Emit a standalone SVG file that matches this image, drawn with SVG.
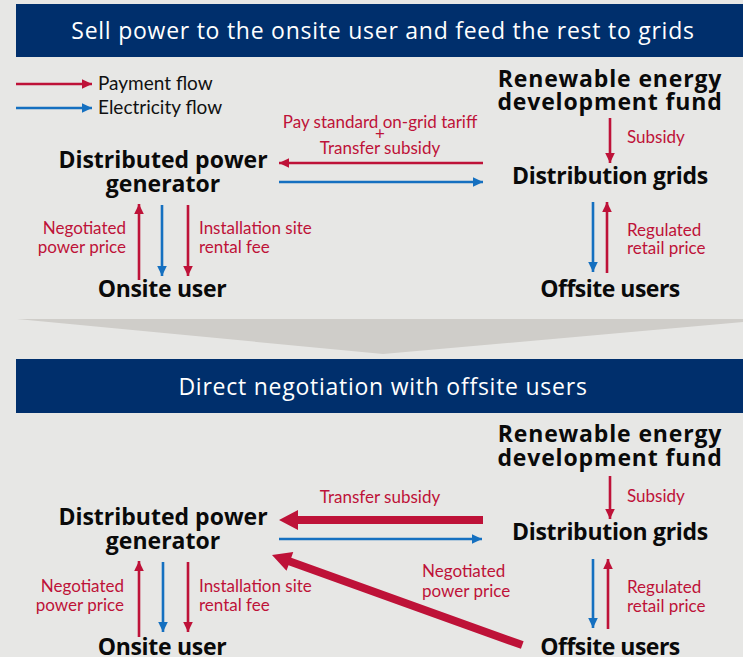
<svg xmlns="http://www.w3.org/2000/svg" width="743" height="657" viewBox="0 0 743 657">
  <style>
    .bg { fill: #e7e7e5; }
    .banner { fill: #002f6c; }
    .title { font-family: "Open Sans", Lato, sans-serif; font-size: 23px; letter-spacing: 0.75px; fill: #ffffff; text-anchor: middle; }
    .node { font-family: "Open Sans", Lato, sans-serif; font-size: 23px; font-weight: bold; fill: #0a0a0a; text-anchor: middle; }
    .wide { letter-spacing: 0.85px; }
    .tight { letter-spacing: -0.5px; }
    .snug { letter-spacing: -0.3px; }
    .lbl { font-family: Lato, "Open Sans", sans-serif; font-size: 17px; fill: #be1238; }
    .legend { font-family: Lato, "Open Sans", sans-serif; font-size: 19px; fill: #111111; }
    .pay { stroke: #be1238; stroke-width: 2.6; fill: none; marker-end: url(#headRed); }
    .elec { stroke: #1570c0; stroke-width: 2.6; fill: none; marker-end: url(#headBlue); }
    .thick { fill: #be1238; }
    .funnel { fill: #cfcdc9; }
  </style>
  <defs>
    <marker id="headRed" markerUnits="userSpaceOnUse" markerWidth="12" markerHeight="12" viewBox="0 0 12 12" refX="11" refY="6" orient="auto">
      <path d="M1,1.2 L11,6 L1,10.8 Z" fill="#be1238"/>
    </marker>
    <marker id="headBlue" markerUnits="userSpaceOnUse" markerWidth="12" markerHeight="12" viewBox="0 0 12 12" refX="11" refY="6" orient="auto">
      <path d="M1,1.2 L11,6 L1,10.8 Z" fill="#1570c0"/>
    </marker>
  </defs>

  <rect class="bg" x="0" y="0" width="743" height="657"/>

  <!-- section 1 header -->
  <g id="banner-top">
    <rect class="banner" x="16" y="4" width="727" height="53"/>
    <text class="title" x="383" y="39">Sell power to the onsite user and feed the rest to grids</text>
  </g>

  <!-- legend -->
  <g id="legend">
    <line class="pay" x1="16" y1="84" x2="92" y2="84"/>
    <text class="legend" x="98" y="90">Payment flow</text>
    <line class="elec" x1="16" y1="108" x2="92" y2="108"/>
    <text class="legend" x="98" y="114">Electricity flow</text>
  </g>

  <!-- transition wedge -->
  <polygon class="funnel" points="17,319 743,319 743,322 383,354"/>

  <!-- section 2 header -->
  <g id="banner-bottom">
    <rect class="banner" x="16" y="359" width="727" height="54"/>
    <text class="title" x="383" y="395">Direct negotiation with offsite users</text>
  </g>

  <!-- section 1 nodes -->
  <g id="fund-1"><text class="node wide" x="610" y="87">Renewable energy</text><text class="node wide" x="610" y="110">development fund</text></g>
  <g id="generator-1"><text class="node" x="163" y="168">Distributed power</text><text class="node" x="163" y="192">generator</text></g>
  <g id="grids-1"><text class="node snug" x="610" y="184">Distribution grids</text></g>
  <g id="onsite-1"><text class="node snug" x="162" y="297">Onsite user</text></g>
  <g id="offsite-1"><text class="node tight" x="610" y="297">Offsite users</text></g>

  <!-- section 2 nodes -->
  <g id="fund-2"><text class="node wide" x="610" y="442">Renewable energy</text><text class="node wide" x="610" y="466">development fund</text></g>
  <g id="generator-2"><text class="node" x="163" y="525">Distributed power</text><text class="node" x="163" y="549">generator</text></g>
  <g id="grids-2"><text class="node snug" x="610" y="540">Distribution grids</text></g>
  <g id="onsite-2"><text class="node snug" x="162" y="655">Onsite user</text></g>
  <g id="offsite-2"><text class="node tight" x="610" y="655">Offsite users</text></g>

  <!-- connectors -->
  <g id="connectors">
    <!-- section 1 -->
    <line class="pay" x1="483" y1="163" x2="279" y2="163"/>
    <line class="elec" x1="279" y1="182" x2="483" y2="182"/>
    <line class="pay" x1="139" y1="280" x2="139" y2="204"/>
    <line class="elec" x1="162" y1="205" x2="162" y2="276"/>
    <line class="pay" x1="188" y1="205" x2="188" y2="276"/>
    <line class="pay" x1="610" y1="118" x2="610" y2="163"/>
    <line class="elec" x1="593" y1="202" x2="593" y2="272"/>
    <line class="pay" x1="607" y1="273" x2="607" y2="202"/>

    <!-- section 2 -->
    <polygon class="thick" transform="translate(279,520)" points="0,0 19,-10 19,-4 204,-4 204,4 19,4 19,10"/>
    <line class="elec" x1="279" y1="539" x2="482" y2="539"/>
    <polygon class="thick" transform="translate(272,555) rotate(19.8)" points="0,0 19,-10 19,-4 266,-4 266,4 19,4 19,10"/>
    <line class="pay" x1="139" y1="637" x2="139" y2="561"/>
    <line class="elec" x1="163" y1="562" x2="163" y2="632"/>
    <line class="pay" x1="188" y1="562" x2="188" y2="632"/>
    <line class="pay" x1="610" y1="476" x2="610" y2="519"/>
    <line class="elec" x1="593" y1="559" x2="593" y2="628"/>
    <line class="pay" x1="608" y1="629" x2="608" y2="559"/>
  </g>

  <!-- connector labels -->
  <g id="labels-1">
    <text class="lbl" x="380" y="128" text-anchor="middle">Pay standard on-grid tariff</text>
    <text class="lbl" x="380" y="140" text-anchor="middle" font-size="14">+</text>
    <text class="lbl" x="380" y="154" text-anchor="middle">Transfer subsidy</text>
    <text class="lbl" x="126" y="234" text-anchor="end">Negotiated</text>
    <text class="lbl" x="126" y="253" text-anchor="end">power price</text>
    <text class="lbl" x="199" y="234">Installation site</text>
    <text class="lbl" x="199" y="253">rental fee</text>
    <text class="lbl" x="627" y="143">Subsidy</text>
    <text class="lbl" x="627" y="236">Regulated</text>
    <text class="lbl" x="627" y="254">retail price</text>
  </g>
  <g id="labels-2">
    <text class="lbl" x="380" y="503" text-anchor="middle">Transfer subsidy</text>
    <text class="lbl" x="124" y="592" text-anchor="end">Negotiated</text>
    <text class="lbl" x="124" y="611" text-anchor="end">power price</text>
    <text class="lbl" x="199" y="592">Installation site</text>
    <text class="lbl" x="199" y="611">rental fee</text>
    <text class="lbl" x="422" y="577">Negotiated</text>
    <text class="lbl" x="422" y="597">power price</text>
    <text class="lbl" x="627" y="502">Subsidy</text>
    <text class="lbl" x="627" y="593">Regulated</text>
    <text class="lbl" x="627" y="612">retail price</text>
  </g>
</svg>
